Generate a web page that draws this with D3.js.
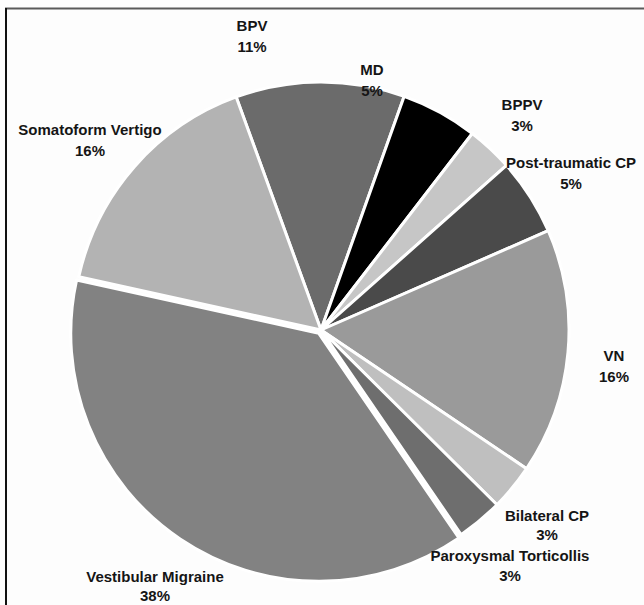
<!DOCTYPE html>
<html>
<head>
<meta charset="utf-8">
<script src="https://cdn.jsdelivr.net/npm/d3@7"></script>
<style>
  html, body { margin: 0; padding: 0; background: #fdfdfd; }
  svg { display: block; }
  .lbl { font-family: "Liberation Sans", Arial, sans-serif; font-weight: bold; font-size: 15px; fill: #151515; }
</style>
</head>
<body>
<div id="chart"></div>
<script>
// 資料
const categories = ["BPV", "MD", "BPPV", "Post-traumatic CP", "VN", "Bilateral CP",
                    "Paroxysmal Torticollis", "Vestibular Migraine", "Somatoform Vertigo"];
const percents = [11, 5, 3, 5, 16, 3, 3, 38, 16];
const pctLabels = ["11%", "5%", "3%", "5%", "16%", "3%", "3%", "38%", "16%"];

// 樣式
const greys = ["#6b6b6b", "#000000", "#c6c6c6", "#4a4a4a", "#9a9a9a", "#bfbfbf",
               "#6e6e6e", "#828282", "#b3b3b3"];
// 標籤位置 (文字中心 x, 第一行基線 y, 行距)
const labelAt = {
    "BPV": [252, 31, 20.5], "MD": [372, 75, 20.5], "BPPV": [522, 110, 20.5],
    "Post-traumatic CP": [571, 168, 20.5], "VN": [614, 361, 20.5], "Bilateral CP": [547, 521, 19],
    "Paroxysmal Torticollis": [510, 561, 20], "Vestibular Migraine": [155, 582, 19],
    "Somatoform Vertigo": [90, 135, 20.5]
};

const width = 644, height = 605;
const cx = 321, cy = 330, radius = 248;
const startDeg = -20;

const svg = d3.select("#chart").append("svg")
    .attr("width", width).attr("height", height);

// 外框 (只有上、左兩邊)
svg.append("line").attr("x1", 5).attr("x2", width).attr("y1", 8.5).attr("y2", 8.5)
    .attr("stroke", "#5a5a5a").attr("stroke-width", 2);
svg.append("line").attr("x1", 6).attr("x2", 6).attr("y1", 8).attr("y2", height)
    .attr("stroke", "#111").attr("stroke-width", 2);

const data = categories.map((c, i) => ({ name: c, value: percents[i], pct: pctLabels[i], color: greys[i] }));

const pie = d3.pie()
    .sort(null)
    .value(d => d.value)
    .startAngle(startDeg * Math.PI / 180)
    .endAngle((startDeg + 360) * Math.PI / 180);

const arc = d3.arc().innerRadius(0).outerRadius(radius);

const g = svg.append("g").attr("transform", `translate(${cx},${cy})`);

g.selectAll("path")
    .data(pie(data))
    .enter()
    .append("path")
    .attr("d", arc)
    .attr("fill", d => d.data.color)
    .attr("stroke", "#fff")
    .attr("stroke-width", 3)
    .attr("stroke-linejoin", "round")
    .attr("transform", d => {
        // Vestibular Migraine 稍微拉出
        if (d.data.name !== "Vestibular Migraine") return null;
        const mid = (d.startAngle + d.endAngle) / 2;
        const off = 4;
        return `translate(${off * Math.sin(mid)},${-off * Math.cos(mid)})`;
    });

// 標籤
const labels = svg.selectAll("text.lbl")
    .data(data)
    .enter()
    .append("text")
    .attr("class", "lbl")
    .attr("text-anchor", "middle")
    .attr("x", d => labelAt[d.name][0])
    .attr("y", d => labelAt[d.name][1]);

labels.append("tspan").attr("x", d => labelAt[d.name][0]).text(d => d.name);
labels.append("tspan").attr("x", d => labelAt[d.name][0]).attr("dy", d => labelAt[d.name][2]).text(d => d.pct);
</script>
</body>
</html>
